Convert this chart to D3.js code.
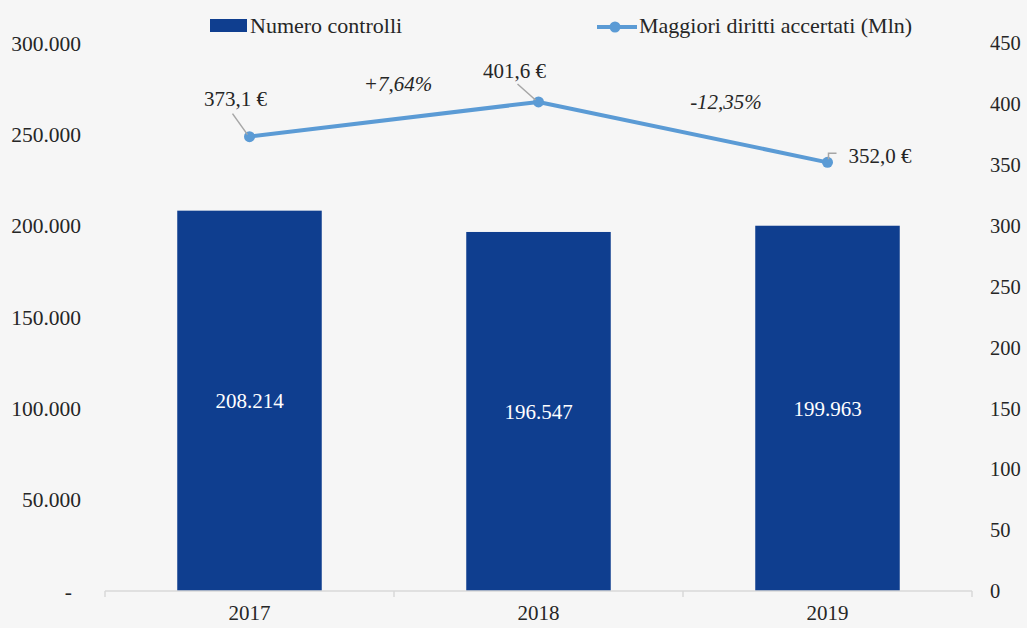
<!DOCTYPE html>
<html><head><meta charset="utf-8">
<script src="https://cdn.jsdelivr.net/npm/d3@7"></script>
<style>html,body{margin:0;padding:0;background:#f6f6f6;}svg{display:block;}</style>
</head><body>
<svg id="c" width="1027" height="628"></svg>
<script>
const categories = ["2017","2018","2019"];
const controlli = [208214,196547,199963];
const diritti = [373.1,401.6,352.0];
const dirittiLabels = ["373,1 €","401,6 €","352,0 €"];
const variations = ["+7,64%","-12,35%"];
const leftTicks = [0,50000,100000,150000,200000,250000,300000];
const rightTicks = [0,50,100,150,200,250,300,350,400,450];

const W=1027,H=628;
const m={l:105,r:972,t:43,b:591};
const font="'Liberation Serif', 'DejaVu Serif', serif";
const svg=d3.select("#c");
svg.append("rect").attr("width",W).attr("height",H).attr("fill","#f6f6f6");

const x=d3.scaleBand().domain(categories).range([m.l,m.r]).paddingInner(0.5).paddingOuter(0.25);
const xb=d3.scaleBand().domain(categories).range([m.l,m.r]);
const yL=d3.scaleLinear().domain([0,300000]).range([m.b,m.t]);
const yR=d3.scaleLinear().domain([0,450]).range([m.b,m.t]);
const fmt=v=>v===0?"-":d3.format(",")(v).replace(/,/g,".");

// left axis labels
svg.append("g").selectAll("text").data(leftTicks).join("text")
  .attr("x",d=>d===0?72:81).attr("y",d=>yL(d)).attr("dy","0.35em").attr("text-anchor","end")
  .attr("font-family",font).attr("font-size",21.5).attr("fill","#262626")
  .text(d=>fmt(d));
// right axis labels
svg.append("g").selectAll("text").data(rightTicks).join("text")
  .attr("x",990).attr("y",d=>yR(d)).attr("dy","0.35em").attr("text-anchor","start")
  .attr("font-family",font).attr("font-size",20.5).attr("fill","#262626")
  .text(d=>d);

// bars
svg.append("g").selectAll("rect").data(categories).join("rect")
  .attr("x",d=>x(d)).attr("width",x.bandwidth())
  .attr("y",(d,i)=>yL(controlli[i])).attr("height",(d,i)=>m.b-yL(controlli[i]))
  .attr("fill","#0f3e8f");
svg.append("g").selectAll("text").data(categories).join("text")
  .attr("x",d=>x(d)+x.bandwidth()/2)
  .attr("y",(d,i)=>(yL(controlli[i])+m.b)/2).attr("dy","0.35em").attr("text-anchor","middle")
  .attr("font-family",font).attr("font-size",21).attr("fill","#ffffff")
  .text((d,i)=>fmt(controlli[i]));

// x axis
const ax=svg.append("g").attr("transform",`translate(0,${m.b})`);
ax.append("line").attr("x1",m.l).attr("x2",m.r).attr("stroke","#d9d9d9").attr("stroke-width",1.5);
const bounds=[m.l,...categories.map(c=>xb(c)+xb.bandwidth())];
ax.selectAll("line.t").data(bounds).join("line").attr("class","t")
  .attr("x1",d=>d).attr("x2",d=>d).attr("y1",0).attr("y2",6).attr("stroke","#d9d9d9").attr("stroke-width",1.5);
ax.selectAll("text").data(categories).join("text")
  .attr("x",d=>xb(d)+xb.bandwidth()/2).attr("y",22).attr("dy","0.35em").attr("text-anchor","middle")
  .attr("font-family",font).attr("font-size",21).attr("fill","#262626").text(d=>d);

// line
const cx=(d,i)=>xb(categories[i])+xb.bandwidth()/2;
const line=d3.line().x((d,i)=>cx(d,i)).y(d=>yR(d));
svg.append("path").datum(diritti).attr("d",line).attr("fill","none")
  .attr("stroke","#5b9bd5").attr("stroke-width",4).attr("stroke-linejoin","round");
svg.append("g").selectAll("circle").data(diritti).join("circle")
  .attr("cx",cx).attr("cy",d=>yR(d)).attr("r",5.5).attr("fill","#5b9bd5");

// leader lines & labels
const p=i=>[cx(null,i),yR(diritti[i])];
const lead=svg.append("g").attr("fill","none").attr("stroke","#a6a6a6").attr("stroke-width",1.5);
lead.append("path").attr("d",`M${p(0)[0]-17},${p(0)[1]-23}L${p(0)[0]-2},${p(0)[1]-2}`);
lead.append("path").attr("d",`M${p(1)[0]-21},${p(1)[1]-18}L${p(1)[0]-3},${p(1)[1]-2}`);
lead.append("path").attr("d",`M${p(2)[0]+1},${p(2)[1]-3}L${p(2)[0]+1},${p(2)[1]-9}L${p(2)[0]+9},${p(2)[1]-9}`);
const lblPos=[[p(0)[0]-14,p(0)[1]-38,"middle"],[p(1)[0]-24,p(1)[1]-31,"middle"],[p(2)[0]+21,p(2)[1]-7,"start"]];
svg.append("g").selectAll("text").data(dirittiLabels).join("text")
  .attr("x",(d,i)=>lblPos[i][0]).attr("y",(d,i)=>lblPos[i][1]).attr("dy","0.35em")
  .attr("text-anchor",(d,i)=>lblPos[i][2])
  .attr("font-family",font).attr("font-size",21).attr("fill","#262626").text(d=>d);

// variations
const varPos=[[(cx(null,0)+cx(null,1))/2+4,84],[(cx(null,1)+cx(null,2))/2+43,102]];
svg.append("g").selectAll("text").data(variations).join("text")
  .attr("x",(d,i)=>varPos[i][0]).attr("y",(d,i)=>varPos[i][1]).attr("dy","0.35em")
  .attr("text-anchor","middle").attr("font-style","italic")
  .attr("font-family",font).attr("font-size",21).attr("fill","#262626").text(d=>d);

// legend
const lg=svg.append("g");
lg.append("rect").attr("x",210).attr("y",19).attr("width",37).attr("height",13).attr("fill","#0f3e8f");
lg.append("text").attr("x",250).attr("y",25).attr("dy","0.35em").attr("font-family",font)
  .attr("font-size",22).attr("fill","#262626").text("Numero controlli");
lg.append("line").attr("x1",597).attr("x2",637).attr("y1",27).attr("y2",27).attr("stroke","#5b9bd5").attr("stroke-width",4);
lg.append("circle").attr("cx",615).attr("cy",27).attr("r",5.5).attr("fill","#5b9bd5");
lg.append("text").attr("x",639).attr("y",25).attr("dy","0.35em").attr("font-family",font)
  .attr("font-size",22).attr("fill","#262626").text("Maggiori diritti accertati (Mln)");
</script>
</body></html>
